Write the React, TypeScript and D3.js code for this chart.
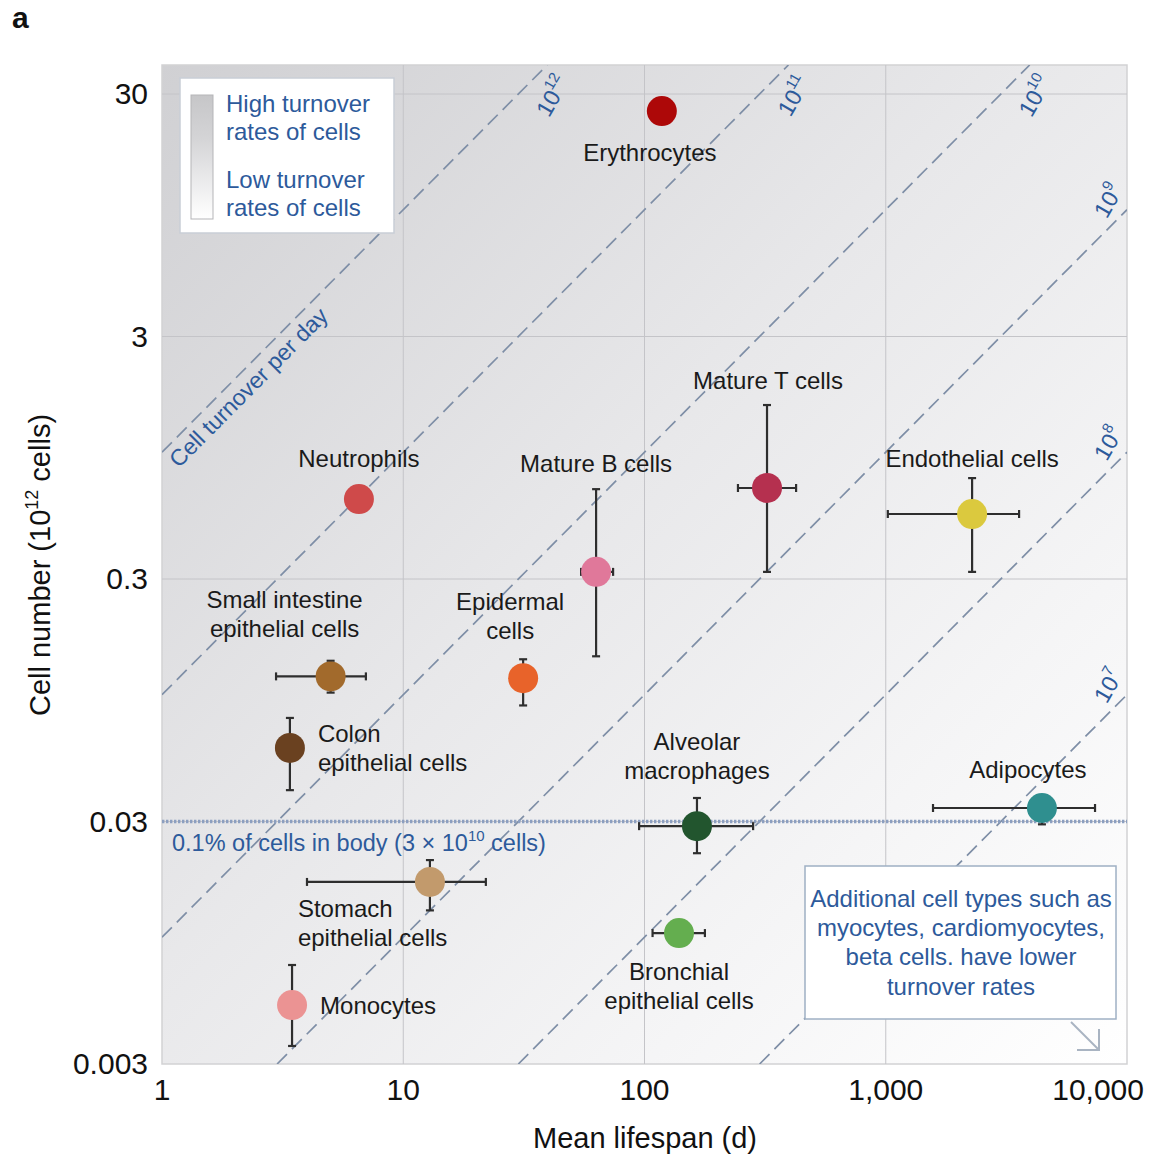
import * as d3 from 'd3';

const cellTypes = [
  'Erythrocytes', 'Neutrophils', 'Mature B cells', 'Mature T cells', 'Endothelial cells',
  'Small intestine epithelial cells', 'Colon epithelial cells', 'Epidermal cells',
  'Alveolar macrophages', 'Adipocytes', 'Stomach epithelial cells',
  'Bronchial epithelial cells', 'Monocytes',
];
// mean lifespan (d) with low/high bounds (null = no bar)
const lifespan = [118, 6.55, 63, 322, 2280, 5.0, 3.39, 31.4, 165, 4440, 12.9, 139, 3.46];
const lifespanLow = [null, null, 54.6, 244, 1020, 2.97, 3.0, null, 95, 1570, 3.99, 108, 3.09];
const lifespanHigh = [null, null, 74.1, 425, 3570, 7.0, 3.83, null, 282, 7370, 22.0, 178, 3.88];
// cell number (10^12 cells)
const cellNumber = [25.5, 0.641, 0.321, 0.712, 0.556, 0.119, 0.0603, 0.117, 0.0287, 0.0341, 0.0169, 0.0104, 0.00525];
const numberLow = [null, null, 0.144, 0.321, 0.321, 0.102, 0.0404, 0.0903, 0.0222, 0.0292, 0.0129, null, 0.00356];
const numberHigh = [null, null, 0.704, 1.565, 0.782, 0.138, 0.0802, 0.140, 0.0375, 0.0376, 0.0208, null, 0.00768];

const turnoverExponents = [12, 11, 10, 9, 8, 7];
const xTicks = [1, 10, 100, 1000, 10000];
const xTickLabels = ['1', '10', '100', '1,000', '10,000'];
const yTicks = [30, 3, 0.3, 0.03, 0.003];
const yTickLabels = ['30', '3', '0.3', '0.03', '0.003'];
const thresholdCells = 0.03;

const dotColors = [
  '#ad0808', '#cf4a4a', '#e0789a', '#b5304f', '#dbc93e', '#a26a2c', '#6a4120',
  '#e8632a', '#22552e', '#2f8f8f', '#c29a6c', '#64ae4f', '#eb9393',
];

// label layout: lines, anchor, offset from the dot
const labelLayout: { lines: string[]; anchor: string; dx: number; dy: number }[] = [
  { lines: ['Erythrocytes'], anchor: 'middle', dx: -12, dy: 50 },
  { lines: ['Neutrophils'], anchor: 'middle', dx: 0, dy: -32 },
  { lines: ['Mature B cells'], anchor: 'middle', dx: 0, dy: -100 },
  { lines: ['Mature T cells'], anchor: 'middle', dx: 1, dy: -99 },
  { lines: ['Endothelial cells'], anchor: 'middle', dx: 0, dy: -47 },
  { lines: ['Small intestine', 'epithelial cells'], anchor: 'middle', dx: -46, dy: -68 },
  { lines: ['Colon', 'epithelial cells'], anchor: 'start', dx: 28, dy: -6 },
  { lines: ['Epidermal', 'cells'], anchor: 'middle', dx: -13, dy: -68 },
  { lines: ['Alveolar', 'macrophages'], anchor: 'middle', dx: 0, dy: -76 },
  { lines: ['Adipocytes'], anchor: 'middle', dx: -14, dy: -30 },
  { lines: ['Stomach', 'epithelial cells'], anchor: 'start', dx: -132, dy: 35 },
  { lines: ['Bronchial', 'epithelial cells'], anchor: 'middle', dx: 0, dy: 47 },
  { lines: ['Monocytes'], anchor: 'start', dx: 28, dy: 9 },
];

const W = 1150;
const H = 1158;
const plot = { left: 162, right: 1127, top: 65, bottom: 1064 };
const font = '"Liberation Sans", Arial, Helvetica, sans-serif';
const blue = '#2d5a9b';

export default function App() {
  const x = d3.scaleLog().domain([1, 10000]).range([plot.left, plot.right]);
  const y = d3.scaleLog().domain([0.003, 30]).range([plot.bottom, 94]);
  const nTop = y.invert(plot.top);
  const nBottom = y.invert(plot.bottom);
  const [lMin, lMax] = x.domain();

  const lines = turnoverExponents.map(e => {
    const rate = Math.pow(10, e - 12); // cells (10^12) per day
    const l0 = Math.max(lMin, nBottom / rate);
    const l1 = Math.min(lMax, nTop / rate);
    const hitsTop = nTop / rate <= lMax;
    const x1 = x(l1);
    const y1 = y(l1 * rate);
    return {
      e,
      x0: x(l0), y0: y(l0 * rate), x1, y1,
      lx: hitsTop ? x1 + 7 : plot.right - 17,
      ly: hitsTop ? plot.top + 32 : y1 - 8,
    };
  });

  const slopeAngle = -(Math.atan2(y(1) - y(10), x(10) - x(1)) * 180) / Math.PI;
  const capHalf = 4;

  return (
    <svg width={W} height={H} style={{ position: 'absolute', left: 0, top: 0, fontFamily: font }}>
      <defs>
        <linearGradient id="bg" x1="0" y1="0" x2="1" y2="1">
          <stop offset="0%" stopColor="#d0d0d3" />
          <stop offset="45%" stopColor="#e8e8ea" />
          <stop offset="75%" stopColor="#f5f5f6" />
          <stop offset="100%" stopColor="#ffffff" />
        </linearGradient>
        <linearGradient id="legendBar" x1="0" y1="0" x2="0" y2="1">
          <stop offset="0%" stopColor="#c6c6c8" />
          <stop offset="35%" stopColor="#d4d4d6" />
          <stop offset="100%" stopColor="#ffffff" />
        </linearGradient>
        <clipPath id="plotClip">
          <rect x={plot.left} y={plot.top} width={plot.right - plot.left} height={plot.bottom - plot.top} />
        </clipPath>
      </defs>

      <text x={12} y={28} fontSize={30} fontWeight="bold" fill="#111">a</text>

      <rect x={plot.left} y={plot.top} width={plot.right - plot.left} height={plot.bottom - plot.top}
        fill="url(#bg)" stroke="#d2d2d4" strokeWidth={1.5} />

      {/* grid */}
      {xTicks.slice(1, -1).map(t => (
        <line key={`gx${t}`} x1={x(t)} x2={x(t)} y1={plot.top} y2={plot.bottom} stroke="#c4c4c8" strokeWidth={1} />
      ))}
      {yTicks.slice(0, -1).map(t => (
        <line key={`gy${t}`} x1={plot.left} x2={plot.right} y1={y(t)} y2={y(t)} stroke="#c4c4c8" strokeWidth={1} />
      ))}

      {/* constant turnover lines */}
      <g clipPath="url(#plotClip)">
        {lines.map(l => (
          <line key={l.e} x1={l.x0} y1={l.y0} x2={l.x1} y2={l.y1}
            stroke="#7e8ea6" strokeWidth={1.7} strokeDasharray="14 7" />
        ))}
      </g>
      {lines.map(l => (
        <text key={`lab${l.e}`} transform={`translate(${l.lx},${l.ly}) rotate(-60)`} textAnchor="middle"
          dominantBaseline="middle" fontSize={23} fill={blue}>
          10<tspan dy={-9} fontSize={15}>{l.e}</tspan>
        </text>
      ))}
      <text transform={`translate(254,393) rotate(${slopeAngle})`} textAnchor="middle" fontSize={23} fill={blue}>
        Cell turnover per day
      </text>

      {/* 0.1% threshold */}
      <line x1={plot.left} x2={plot.right} y1={y(thresholdCells)} y2={y(thresholdCells)}
        stroke="#8c9fc0" strokeWidth={3.5} strokeDasharray="2.4 1.6" />
      <text x={172} y={851} fontSize={23.5} fill={blue}>
        0.1% of cells in body (3 × 10<tspan dy={-10} fontSize={15}>10</tspan><tspan dy={10}> cells)</tspan>
      </text>

      {/* error bars */}
      {cellTypes.map((c, i) => {
        const cx = x(lifespan[i]);
        const cy = y(cellNumber[i]);
        const lo = lifespanLow[i];
        const hi = lifespanHigh[i];
        const nlo = numberLow[i];
        const nhi = numberHigh[i];
        return (
          <g key={`err${c}`} stroke="#2e2e2e" strokeWidth={2.2}>
            {lo != null && hi != null && (
              <>
                <line x1={x(lo)} x2={x(hi)} y1={cy} y2={cy} />
                <line x1={x(lo)} x2={x(lo)} y1={cy - capHalf} y2={cy + capHalf} />
                <line x1={x(hi)} x2={x(hi)} y1={cy - capHalf} y2={cy + capHalf} />
              </>
            )}
            {nlo != null && nhi != null && (
              <>
                <line x1={cx} x2={cx} y1={y(nlo)} y2={y(nhi)} />
                <line x1={cx - capHalf} x2={cx + capHalf} y1={y(nlo)} y2={y(nlo)} />
                <line x1={cx - capHalf} x2={cx + capHalf} y1={y(nhi)} y2={y(nhi)} />
              </>
            )}
          </g>
        );
      })}

      {/* dots */}
      {cellTypes.map((c, i) => (
        <circle key={`dot${c}`} cx={x(lifespan[i])} cy={y(cellNumber[i])} r={15} fill={dotColors[i]} />
      ))}

      {/* point labels */}
      {cellTypes.map((c, i) => {
        const lay = labelLayout[i];
        const cx = x(lifespan[i]) + lay.dx;
        const cy = y(cellNumber[i]) + lay.dy;
        return (
          <text key={`lab${c}`} x={cx} y={cy} textAnchor={lay.anchor} fontSize={24} fill="#1a1a1a">
            {lay.lines.map((t, k) => (
              <tspan key={k} x={cx} dy={k === 0 ? 0 : 29}>{t}</tspan>
            ))}
          </text>
        );
      })}

      {/* legend */}
      <rect x={180} y={78} width={214} height={155} fill="#ffffff" stroke="#c9ced6" strokeWidth={1.5} />
      <rect x={191} y={95} width={22} height={124} fill="url(#legendBar)" stroke="#b5b5b8" strokeWidth={1} />
      <g fontSize={24} fill={blue}>
        <text x={226} y={112}>High turnover</text>
        <text x={226} y={140}>rates of cells</text>
        <text x={226} y={188}>Low turnover</text>
        <text x={226} y={216}>rates of cells</text>
      </g>

      {/* annotation box */}
      <rect x={805} y={866} width={311} height={153} fill="#ffffff" stroke="#9fb0c4" strokeWidth={1.5} />
      <g fontSize={24} fill={blue} textAnchor="middle">
        <text x={961} y={907}>Additional cell types such as</text>
        <text x={961} y={936}>myocytes, cardiomyocytes,</text>
        <text x={961} y={965}>beta cells. have lower</text>
        <text x={961} y={995}>turnover rates</text>
      </g>
      <g stroke="#a9b4c2" strokeWidth={2} fill="none">
        <line x1={1071} y1={1022} x2={1099} y2={1050} />
        <polyline points="1077,1050 1099,1050 1099,1029" />
      </g>

      {/* axes labels */}
      {yTicks.map((t, i) => (
        <text key={`yt${t}`} x={148} y={y(t) + 10} textAnchor="end" fontSize={30} fill="#111">{yTickLabels[i]}</text>
      ))}
      {xTicks.map((t, i) => (
        <text key={`xt${t}`} x={i === xTicks.length - 1 ? x(t) + 17 : x(t)} y={1100}
          textAnchor={i === xTicks.length - 1 ? 'end' : 'middle'} fontSize={30} fill="#111">{xTickLabels[i]}</text>
      ))}
      <text x={645} y={1148} textAnchor="middle" fontSize={29} fill="#111">Mean lifespan (d)</text>
      <text transform="translate(50,565) rotate(-90)" textAnchor="middle" fontSize={29} fill="#111">
        Cell number (10<tspan dy={-12} fontSize={18}>12</tspan><tspan dy={12}> cells)</tspan>
      </text>
    </svg>
  );
}
